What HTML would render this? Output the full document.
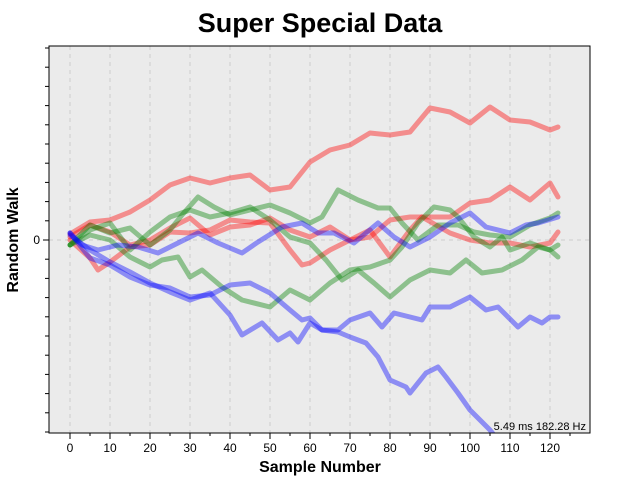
<!DOCTYPE html>
<html><head><meta charset="utf-8"><style>
html,body{margin:0;padding:0;background:#fff;}
svg{display:block;font-family:"Liberation Sans",Arial,sans-serif;}
</style></head><body>
<svg id="chart" width="640" height="480" viewBox="0 0 640 480">
<rect x="0" y="0" width="640" height="480" fill="#ffffff"/>
<text x="320" y="32" text-anchor="middle" font-size="27" font-weight="bold" fill="#000">Super Special Data</text>
<rect x="49" y="46" width="541" height="387" fill="#ebebeb"/>
<g id="grid"></g>
<g id="series" clip-path="url(#clip)"></g>
<clipPath id="clip"><rect x="49" y="46" width="541" height="387"/></clipPath>
<rect x="49" y="46" width="541" height="387" fill="none" stroke="#000" stroke-width="1"/>
<g id="axes"></g>
<text x="586" y="430" text-anchor="end" font-size="11" fill="#000">5.49 ms 182.28 Hz</text>
<text x="320" y="472" text-anchor="middle" font-size="16" font-weight="bold" fill="#000">Sample Number</text>
<text transform="translate(18,240) rotate(-90)" text-anchor="middle" font-size="16" font-weight="bold" fill="#000">Random Walk</text>
</svg>
<script>
const xTicks = [0,10,20,30,40,50,60,70,80,90,100,110,120];
const xTickLabels = ["0","10","20","30","40","50","60","70","80","90","100","110","120"];
const yTickLabels = ["0"];

const r1X = [0,5,10,15,20,25,30,35,40,45,50,55,60,65,70,75,80,85,90,95,100,105,110,115,120,122];
const r1V = [0.6,1.8,2.0,2.8,4.0,5.5,6.2,5.7,6.2,6.5,5.0,5.3,7.8,9.0,9.5,10.7,10.5,10.8,13.2,12.8,11.7,13.3,12.0,11.8,11.0,11.3];
const r2X = [0,5,7,10,15,20,25,30,35,40,45,50,55,58,60,65,70,75,80,85,90,95,100,105,110,115,120,122];
const r2V = [0,-1.8,-3.0,-2.2,-0.7,-0.5,0.8,0.7,1.0,2.0,1.8,1.7,-1.0,-2.5,-2.3,-1.0,0,0.3,2.0,2.3,2.3,2.3,3.7,4.0,5.3,4.0,5.7,4.3];
const r3X = [0,5,10,15,20,25,30,35,40,45,50,55,60,65,70,75,80,85,88,95,100,105,110,115,120,122];
const r3V = [0.3,1.5,0.8,-0.5,0,1.2,2.2,0.5,1.3,1.5,2.2,1.0,0.3,1.3,0,1.0,-1.7,1.0,2.3,0.7,0,-0.3,-0.3,-0.7,-0.3,0.8];
const g1X = [0,5,10,15,20,25,28,32,36,40,45,50,55,60,63,67,72,77,80,83,87,92,97,101,105,110,115,120,122];
const g1V = [-0.5,1.5,0.7,1.2,-0.5,1.0,2.5,4.3,3.3,2.5,3.0,3.5,2.7,1.7,2.3,5.0,4.0,3.2,3.2,1.7,0,1.5,1.5,0.8,0.5,0.3,1.5,2.2,2.7];
const g2X = [0,5,10,15,20,25,30,35,40,45,50,55,60,64,68,72,76,80,85,90,95,99,103,108,113,117,120,122];
const g2V = [-0.5,1.0,1.7,-1.0,0.8,2.3,3.0,2.3,2.7,3.3,2.0,0.3,-0.3,-2.0,-4.0,-3.0,-4.3,-5.7,-4.0,-3.0,-3.3,-2.0,-3.3,-3.0,-2.0,-0.7,-1.0,-0.5];
const g3X = [0,5,10,15,20,23,27,30,33,38,43,50,55,60,65,70,75,80,83,87,91,95,97,101,105,108,110,115,120,122];
const g3V = [-0.5,0.5,0,-1.7,-2.7,-2.0,-1.7,-3.7,-3.0,-4.7,-6.0,-6.7,-5.0,-6.0,-4.3,-3.0,-2.7,-2.0,-0.7,1.7,3.3,3.0,2.3,0.3,-0.7,0.3,-1.0,-0.3,-1.0,-1.7];
const b1X = [0,3,7,12,17,22,27,32,37,43,47,53,58,62,66,71,77,81,85,90,95,100,104,110,114,117,122];
const b1V = [0.7,-0.5,-1.0,-0.5,-0.7,-1.3,-0.3,0.7,-0.3,-1.3,-0.2,1.3,1.7,0.7,0.7,-0.3,1.7,0.3,-0.7,0.3,1.7,2.7,1.3,0.7,1.5,1.7,2.3];
const b2X = [0,5,10,15,20,25,30,35,40,45,50,55,58,60,63,67,70,75,78,81,88,90,95,100,104,107,112,115,118,120,122];
const b2V = [0.7,-1.8,-2.5,-3.7,-4.5,-4.8,-5.7,-5.5,-4.5,-4.3,-5.3,-7.0,-8.0,-7.8,-9.0,-9.0,-8.0,-7.3,-8.7,-7.3,-8.0,-6.7,-6.7,-5.7,-7.0,-6.7,-8.7,-7.7,-8.3,-7.7,-7.7];
const b3X = [0,5,10,15,20,25,30,35,40,43,48,52,55,57,60,63,67,70,74,77,80,84,85,89,92,94,97,100,105,108];
const b3V = [0.5,-1.0,-2.2,-3.2,-4.3,-5.2,-6.0,-5.3,-7.5,-9.5,-8.3,-10.0,-9.3,-10.2,-8.3,-9.0,-9.2,-9.7,-10.3,-11.7,-14.0,-14.7,-15.3,-13.3,-12.7,-13.7,-15.3,-17.0,-19.0,-20.5];

const seriesList = [
  {n:"red-walk-1", x:r1X, v:r1V, c:"#ff0000"},
  {n:"red-walk-2", x:r2X, v:r2V, c:"#ff0000"},
  {n:"red-walk-3", x:r3X, v:r3V, c:"#ff0000"},
  {n:"green-walk-1", x:g1X, v:g1V, c:"#008000"},
  {n:"green-walk-2", x:g2X, v:g2V, c:"#008000"},
  {n:"green-walk-3", x:g3X, v:g3V, c:"#008000"},
  {n:"blue-walk-1", x:b1X, v:b1V, c:"#0000ff"},
  {n:"blue-walk-2", x:b2X, v:b2V, c:"#0000ff"},
  {n:"blue-walk-3", x:b3X, v:b3V, c:"#0000ff"}
];

const NS = "http://www.w3.org/2000/svg";
function xPx(s){ return 70 + s*4; }
function yPx(v){ return 240 - v*10; }
function mk(tag, attrs, parent){
  const e = document.createElementNS(NS, tag);
  for (const k in attrs) e.setAttribute(k, attrs[k]);
  parent.appendChild(e);
  return e;
}
const grid = document.getElementById("grid");
const axes = document.getElementById("axes");
const ser = document.getElementById("series");

xTicks.forEach((t, i) => {
  const gl = mk("line", {x1:xPx(t), x2:xPx(t), y1:46, y2:433, stroke:"#cccccc", "stroke-dasharray":"4,4"}, grid);
  
  
  const tk = mk("line", {x1:xPx(t), x2:xPx(t), y1:433, y2:439, stroke:"#000"}, axes);
  
  
  const mt = mk("line", {x1:xPx(t+5), x2:xPx(t+5), y1:433, y2:436, stroke:"#000"}, axes);
  
  
  const lb = mk("text", {x:xPx(t), y:452, "text-anchor":"middle", "font-size":"12", fill:"#000"}, axes);
  lb.textContent = xTickLabels[i];
  
  
});
const zl = mk("line", {x1:49, x2:590, y1:yPx(0), y2:yPx(0), stroke:"#cccccc", "stroke-dasharray":"4,4"}, grid);


for (let k = -10; k <= 10; k++) {
  const y = yPx(0) + k*19.2;
  if (y < 46 || y > 433) continue;
  const t = mk("line", {x1:k===0?43:45, x2:49, y1:y, y2:y, stroke:"#000"}, axes);
  
  
}
const yl = mk("text", {x:40, y:yPx(0)+4, "text-anchor":"end", "font-size":"12", fill:"#000"}, axes);
yl.textContent = yTickLabels[0];



seriesList.forEach(s => {
  const pts = s.x.map((xv, i) => xPx(xv) + "," + yPx(s.v[i])).join(" ");
  const pl = mk("polyline", {points:pts, fill:"none", stroke:s.c, "stroke-width":"5", "stroke-opacity":"0.4", "stroke-linejoin":"round", "stroke-linecap":"round"}, ser);
  
  
});
</script>
</body></html>
